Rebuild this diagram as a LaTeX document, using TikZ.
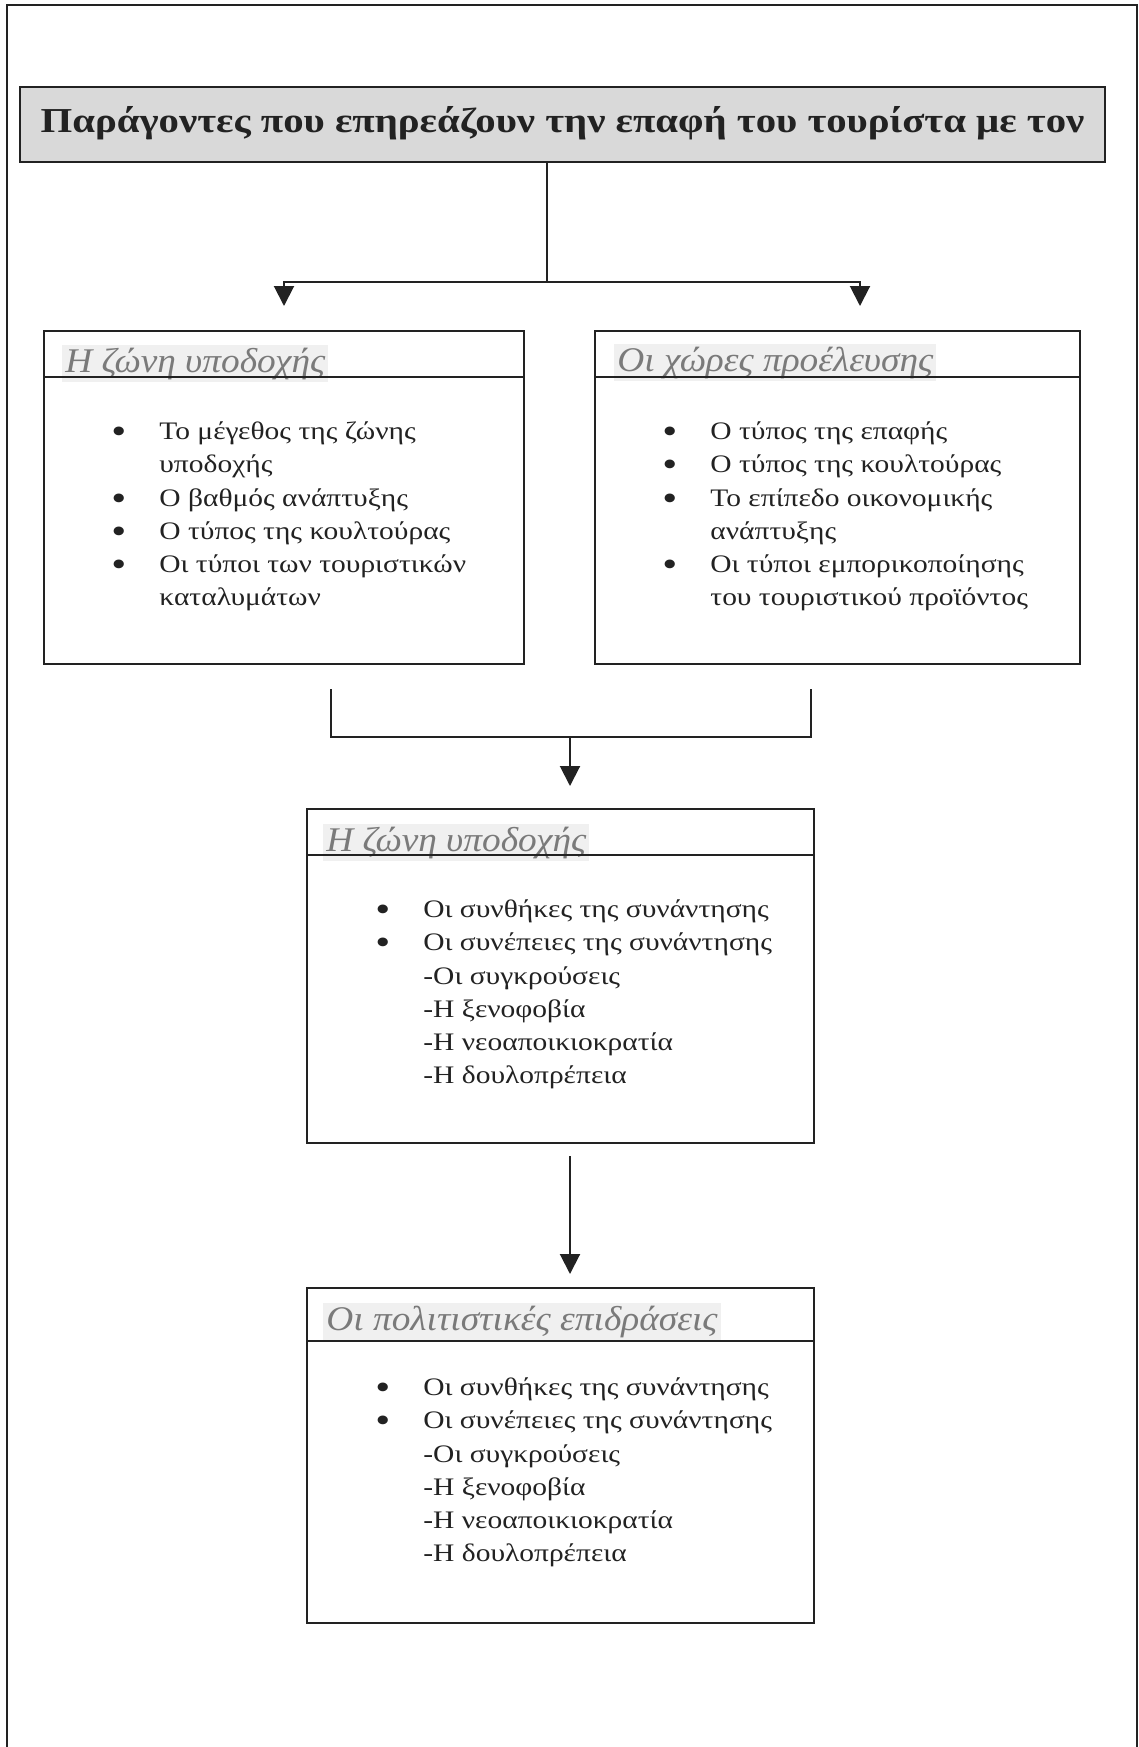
\documentclass[tikz,border=0pt]{standalone}
\usepackage{fontspec}
\setmainfont{Liberation Serif}
\newfontfamily\bodyfont{Liberation Serif}[FakeStretch=1.17]
\newfontfamily\titlefont{Liberation Serif}[FakeStretch=1.165]
\newfontfamily\headfont{Liberation Serif}[FakeStretch=1.08]
\usetikzlibrary{arrows.meta}
\definecolor{ink}{HTML}{222222}
\definecolor{headgrey}{HTML}{7A7A7A}
\definecolor{titlefill}{HTML}{D9D9D9}
\definecolor{headfill}{HTML}{F0F0F0}
\newcommand{\bul}{\makebox[24pt][l]{\raisebox{-2pt}{\scalebox{1.45}{•}}}}
\newcommand{\ind}{\hspace*{24pt}}
\begin{document}
\begin{tikzpicture}[x=0.5pt,y=-0.5pt,
  frameline/.style={draw=ink, line width=0.8pt},
  conn/.style={draw=ink, line width=1pt},
  arr/.style={conn, -{Triangle[width=10pt,length=10pt]}},
  titlebox/.style={draw=ink, line width=1.2pt, fill=titlefill, inner sep=0pt,
    minimum width=542.5pt, minimum height=37.5pt, text height=11pt, text depth=3.5pt,
    font=\titlefont\bfseries\fontsize{17.5}{20}\selectfont, text=ink},
  panel/.style={draw=ink, line width=1pt, anchor=north west, inner sep=0pt},
  headtext/.style={anchor=base west, fill=headfill, inner xsep=1.5pt, inner ysep=1.5pt,
    font=\headfont\itshape\fontsize{17.3}{20}\selectfont, text=headgrey},
  bodytext/.style={anchor=north west, inner sep=0pt, align=left, text=ink,
    font=\bodyfont\fontsize{12.6}{16.6}\selectfont}
]
\useasboundingbox (0,0) rectangle (1139,1747);
% outer frame
\draw[frameline] (7,1747) -- (7,5) -- (1137,5) -- (1137,1747);

% title
\node[titlebox] (title) at (562.5,124.5) {Παράγοντες που επηρεάζουν την επαφή του τουρίστα με τον};

% panels
\node[panel, minimum width=240pt, minimum height=166.5pt] (zb) at (43,330) {};
\node[panel, minimum width=242.5pt, minimum height=166.5pt] (xp) at (594,330) {};
\node[panel, minimum width=253.5pt, minimum height=167pt] (sy) at (306,808) {};
\node[panel, minimum width=253.5pt, minimum height=167.5pt] (pe) at (306,1287) {};

% header texts
\node[headtext] (zbh) at (62,372) {Η ζώνη υποδοχής};
\node[headtext] (xph) at (614,371) {Οι χώρες προέλευσης};
\node[headtext] (syh) at (323,851) {Η ζώνη υποδοχής};
\node[headtext] (peh) at (323,1330) {Οι πολιτιστικές επιδράσεις};

% header separators
\draw[conn] ([yshift=-23.5pt]zb.north west) -- ([yshift=-23.5pt]zb.north east);
\draw[conn] ([yshift=-23.5pt]xp.north west) -- ([yshift=-23.5pt]xp.north east);
\draw[conn] ([yshift=-23.5pt]sy.north west) -- ([yshift=-23.5pt]sy.north east);
\draw[conn] ([yshift=-27pt]pe.north west) -- ([yshift=-27pt]pe.north east);

% body texts
\node[bodytext] (zbt) at (111,416) {\strut\bul Το μέγεθος της ζώνης\\
\ind υποδοχής\\
\bul Ο βαθμός ανάπτυξης\\
\bul Ο τύπος της κουλτούρας\\
\bul Οι τύποι των τουριστικών\\
\ind καταλυμάτων};

\node[bodytext] (xpt) at (662,416) {\strut\bul Ο τύπος της επαφής\\
\bul Ο τύπος της κουλτούρας\\
\bul Το επίπεδο οικονομικής\\
\ind ανάπτυξης\\
\bul Οι τύποι εμπορικοποίησης\\
\ind του τουριστικού προϊόντος};

\node[bodytext] (syt) at (375,894) {\strut\bul Οι συνθήκες της συνάντησης\\
\bul Οι συνέπειες της συνάντησης\\
\ind -Οι συγκρούσεις\\
\ind -Η ξενοφοβία\\
\ind -Η νεοαποικιοκρατία\\
\ind -Η δουλοπρέπεια};

\node[bodytext] (pet) at (375,1372) {\strut\bul Οι συνθήκες της συνάντησης\\
\bul Οι συνέπειες της συνάντησης\\
\ind -Οι συγκρούσεις\\
\ind -Η ξενοφοβία\\
\ind -Η νεοαποικιοκρατία\\
\ind -Η δουλοπρέπεια};

% connectors: split from title
\coordinate (j1) at (547,282);
\coordinate (a1) at (284,306);
\coordinate (a2) at (860,306);
\draw[conn] (title.south -| j1) -- (j1);
\draw[arr] (j1) -| (a1);
\draw[arr] (j1) -| (a2);

% merge into third panel
\coordinate (m1) at (331,689);
\coordinate (m2) at (811,689);
\coordinate (m3) at (570,737);
\coordinate (a3) at (570,786);
\draw[conn] (m1) |- (m2 |- m3) -- (m2);
\draw[arr] (m3) -- (a3);

% third to fourth
\coordinate (s4) at (570,1156);
\coordinate (a4) at (570,1274);
\draw[arr] (s4) -- (a4);
\end{tikzpicture}
\end{document}
